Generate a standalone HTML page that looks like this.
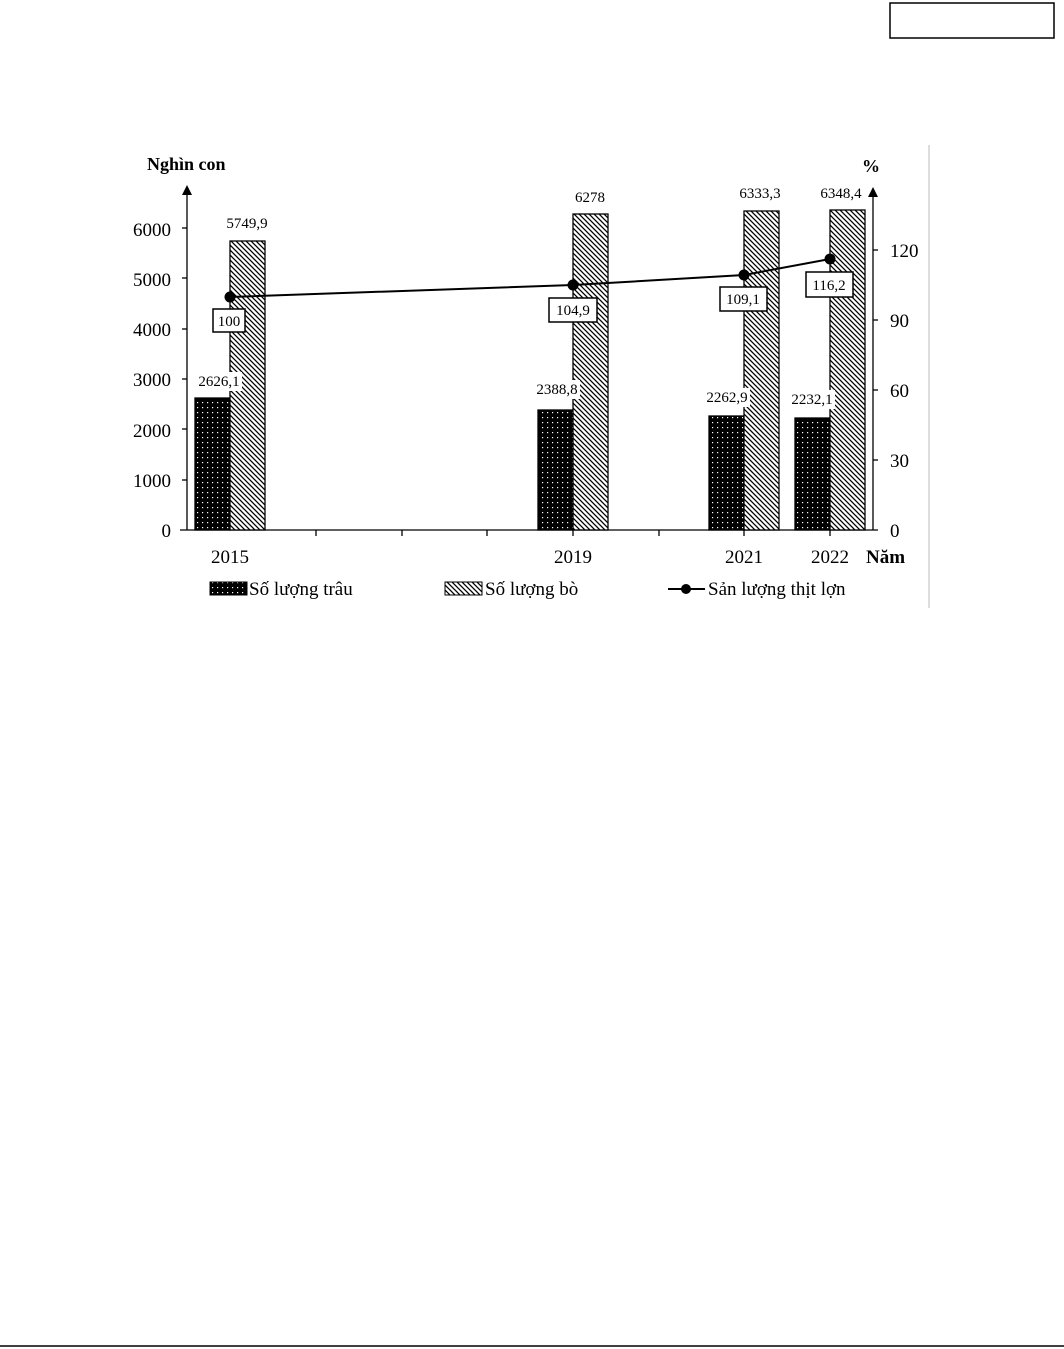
<!DOCTYPE html>
<html><head><meta charset="utf-8"><style>
body{margin:0;background:#fff;}
svg{display:block;font-family:"Liberation Serif",serif;}
</style></head><body>
<svg width="1064" height="1349" viewBox="0 0 1064 1349">
<defs>
<pattern id="hatch" width="5" height="5" patternUnits="userSpaceOnUse">
<rect width="5" height="5" fill="#fff"/>
<path d="M-1,4 l2,2 M0,0 l5,5 M4,-1 l2,2" stroke="#000" stroke-width="1.3"/>
</pattern>
<pattern id="dots" width="5" height="5" patternUnits="userSpaceOnUse">
<rect width="5" height="5" fill="#000"/>
<rect x="2" y="2" width="1.2" height="1.2" fill="#fff"/>
</pattern>
</defs>
<rect x="890" y="3" width="164" height="35" fill="none" stroke="#000" stroke-width="1.5"/>
<line x1="929" y1="145" x2="929" y2="608" stroke="#bbb" stroke-width="1"/>
<line x1="0" y1="1346" x2="1064" y2="1346" stroke="#000" stroke-width="1.5"/>

<text x="147" y="170" font-size="18" font-weight="bold">Nghìn con</text>
<text x="862" y="172" font-size="18" font-weight="bold">%</text>
<line x1="187" y1="190" x2="187" y2="530" stroke="#000" stroke-width="1.3"/>
<polygon points="182,195 192,195 187,185" fill="#000"/>
<line x1="873" y1="195" x2="873" y2="530" stroke="#000" stroke-width="1.3"/>
<polygon points="868,197 878,197 873,187" fill="#000"/>
<line x1="180" y1="530" x2="878" y2="530" stroke="#000" stroke-width="1.3"/>
<g font-size="19" text-anchor="end">
<text x="171" y="537">0</text><text x="171" y="487">1000</text><text x="171" y="437">2000</text>
<text x="171" y="386">3000</text><text x="171" y="336">4000</text><text x="171" y="286">5000</text><text x="171" y="236">6000</text>
</g>
<g stroke="#000" stroke-width="1.3">
<line x1="182" y1="480" x2="187" y2="480"/><line x1="182" y1="429" x2="187" y2="429"/><line x1="182" y1="379" x2="187" y2="379"/>
<line x1="182" y1="329" x2="187" y2="329"/><line x1="182" y1="278" x2="187" y2="278"/><line x1="182" y1="228" x2="187" y2="228"/>
<line x1="873" y1="460" x2="878" y2="460"/><line x1="873" y1="390" x2="878" y2="390"/><line x1="873" y1="320" x2="878" y2="320"/><line x1="873" y1="250" x2="878" y2="250"/>
<line x1="316" y1="530" x2="316" y2="536"/><line x1="402" y1="530" x2="402" y2="536"/><line x1="487" y1="530" x2="487" y2="536"/>
<line x1="573" y1="530" x2="573" y2="536"/><line x1="659" y1="530" x2="659" y2="536"/><line x1="744" y1="530" x2="744" y2="536"/><line x1="830" y1="530" x2="830" y2="536"/>
</g>
<g font-size="19">
<text x="890" y="537">0</text><text x="890" y="467">30</text><text x="890" y="397">60</text><text x="890" y="327">90</text><text x="890" y="257">120</text>
</g>
<g stroke="#000" stroke-width="1.3">
<rect x="195" y="398" width="35" height="132" fill="url(#dots)"/>
<rect x="230" y="241" width="35" height="289" fill="url(#hatch)"/>
<rect x="538" y="410" width="35" height="120" fill="url(#dots)"/>
<rect x="573" y="214" width="35" height="316" fill="url(#hatch)"/>
<rect x="709" y="416" width="35" height="114" fill="url(#dots)"/>
<rect x="744" y="211" width="35" height="319" fill="url(#hatch)"/>
<rect x="795" y="418" width="35" height="112" fill="url(#dots)"/>
<rect x="830" y="210" width="35" height="320" fill="url(#hatch)"/>
</g>
<g fill="#fff">
<rect x="196" y="372" width="46" height="19"/><rect x="534" y="380" width="46" height="19"/>
<rect x="704" y="388" width="46" height="19"/><rect x="789" y="390" width="46" height="19"/>
</g>
<g font-size="15" text-anchor="middle">
<text x="219" y="386">2626,1</text><text x="247" y="228">5749,9</text>
<text x="557" y="394">2388,8</text><text x="590" y="202">6278</text>
<text x="727" y="402">2262,9</text><text x="760" y="198">6333,3</text>
<text x="812" y="404">2232,1</text><text x="841" y="198">6348,4</text>
</g>
<polyline points="230,297 573,285 744,275 830,259" fill="none" stroke="#000" stroke-width="2"/>
<g fill="#000"><circle cx="230" cy="297" r="5.5"/><circle cx="573" cy="285" r="5.5"/><circle cx="744" cy="275" r="5.5"/><circle cx="830" cy="259" r="5.5"/></g>
<g fill="#fff" stroke="#000" stroke-width="1.5">
<rect x="213" y="309" width="32" height="23"/><rect x="549" y="298" width="48" height="24"/>
<rect x="720" y="287" width="47" height="24"/><rect x="806" y="272" width="47" height="25"/>
</g>
<g font-size="15" text-anchor="middle">
<text x="229" y="326">100</text><text x="573" y="315">104,9</text><text x="743" y="304">109,1</text><text x="829" y="290">116,2</text>
</g>
<g font-size="19" text-anchor="middle">
<text x="230" y="563">2015</text><text x="573" y="563">2019</text><text x="744" y="563">2021</text><text x="830" y="563">2022</text>
</g>
<text x="866" y="563" font-size="19" font-weight="bold">Năm</text>
<rect x="210" y="582" width="37" height="13" fill="url(#dots)" stroke="#000"/>
<text x="249" y="595" font-size="19">Số lượng trâu</text>
<rect x="445" y="582" width="37" height="13" fill="url(#hatch)" stroke="#000"/>
<text x="485" y="595" font-size="19">Số lượng bò</text>
<line x1="668" y1="589" x2="705" y2="589" stroke="#000" stroke-width="2"/>
<circle cx="686" cy="589" r="5" fill="#000"/>
<text x="708" y="595" font-size="19">Sản lượng thịt lợn</text>
</svg>
</body></html>
